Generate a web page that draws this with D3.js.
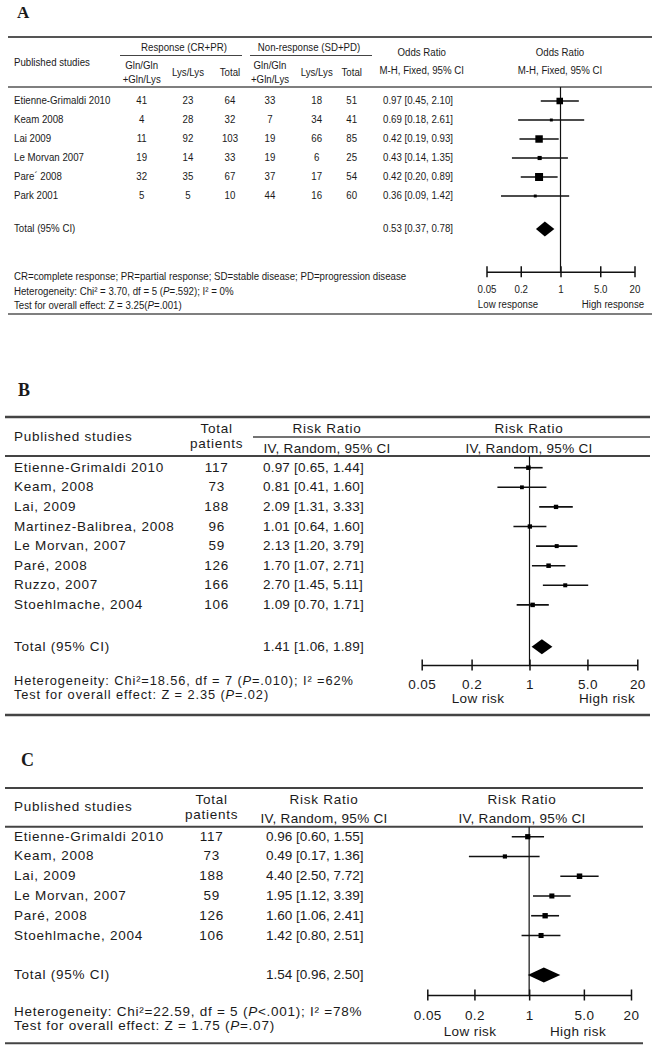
<!DOCTYPE html>
<html><head><meta charset="utf-8">
<script src="https://cdn.jsdelivr.net/npm/d3@7"></script>
<style>body{margin:0;background:#fff} svg{display:block}</style>
</head><body><svg id="c" width="659" height="1050"></svg>
<script>
// ---------- Panel A data ----------
const studiesA = ["Etienne-Grimaldi 2010","Keam 2008","Lai 2009","Le Morvan 2007","Pare´ 2008","Park 2001"];
const respGlnA = [41,4,11,19,32,5];
const respLysA = [23,28,92,14,35,5];
const respTotA = [64,32,103,33,67,10];
const nonGlnA  = [33,7,19,19,37,44];
const nonLysA  = [18,34,66,6,17,16];
const nonTotA  = [51,41,85,25,54,60];
const estA = [0.97,0.69,0.42,0.43,0.42,0.36];
const loA  = [0.45,0.18,0.19,0.14,0.20,0.09];
const hiA  = [2.10,2.61,0.93,1.35,0.89,1.42];
const weightA = [20,4,26,8,30,4];
const totalA = [0.53,0.37,0.78];
// ---------- Panel B data ----------
const studiesB = ["Etienne-Grimaldi 2010","Keam, 2008","Lai, 2009","Martinez-Balibrea, 2008","Le Morvan, 2007","Paré, 2008","Ruzzo, 2007","Stoehlmache, 2004"];
const patientsB = [117,73,188,96,59,126,166,106];
const estB = [0.97,0.81,2.09,1.01,2.13,1.70,2.70,1.09];
const loB  = [0.65,0.41,1.31,0.64,1.20,1.07,1.45,0.70];
const hiB  = [1.44,1.60,3.33,1.60,3.79,2.71,5.11,1.71];
const weightB = [14,10,13,13,11,14,11,14];
const totalB = [1.41,1.06,1.89];
// ---------- Panel C data ----------
const studiesC = ["Etienne-Grimaldi 2010","Keam, 2008","Lai, 2009","Le Morvan, 2007","Paré, 2008","Stoehlmache, 2004"];
const patientsC = [117,73,188,59,126,106];
const estC = [0.96,0.49,4.40,1.95,1.60,1.42];
const loC  = [0.60,0.17,2.50,1.12,1.06,0.80];
const hiC  = [1.55,1.36,7.72,3.39,2.41,2.51];
const weightC = [17,11,19,16,18,16];
const totalC = [1.54,0.96,2.50];
// ---------- axis ----------
const tickValues = [0.05,0.2,1,5,20];
const tickLabels = ["0.05","0.2","1","5.0","20"];

const svg = d3.select("#c");
svg.append("rect").attr("width",659).attr("height",1050).attr("fill","#fff");
const LS = "'Liberation Sans', Arial, sans-serif";
const SERIF = "'Liberation Serif','Times New Roman',serif";
const INK = "#1a1a1a";

function rule(x1,x2,y,w,c){
  svg.append("line").attr("x1",x1).attr("x2",x2).attr("y1",y).attr("y2",y)
    .attr("stroke",c||"#333").attr("stroke-width",w);
}
function label(x,y,s,o={}){
  const t = svg.append("text")
    .attr("font-family",o.ff||LS).attr("font-size",o.fs||13)
    .attr("text-anchor",o.anchor||"start").attr("dominant-baseline","middle")
    .attr("fill",INK);
  if(o.sx){ t.attr("x",0).attr("y",0).attr("transform",`translate(${x},${y}) scale(${o.sx},1)`); }
  else t.attr("x",x).attr("y",y);
  if(o.fw) t.attr("font-weight",o.fw);
  if(o.ls) t.attr("letter-spacing",o.ls);
  String(s).split(/(\*[^*]+\*)/).forEach(p=>{
    if(!p) return;
    if(p[0]==="*") t.append("tspan").attr("font-style","italic").text(p.slice(1,-1));
    else t.append("tspan").text(p);
  });
  return t;
}
function fmt(v){ return v.toFixed(2); }

function forest(o){
  const x = d3.scaleLog().domain([0.05,20]).range(o.xr);
  const y = d3.scaleLinear().domain([0,o.est.length-1]).range(o.yr);
  const sz = d3.scaleSqrt().domain([0,d3.max(o.w)]).range([0,o.maxBox]);
  const g = svg.append("g");
  g.append("line").attr("x1",x(1)).attr("x2",x(1)).attr("y1",o.yTop).attr("y2",o.yAxis)
    .attr("stroke","#111").attr("stroke-width",1.2);
  o.est.forEach((e,i)=>{
    g.append("line").attr("x1",x(o.lo[i])).attr("x2",x(o.hi[i])).attr("y1",y(i)).attr("y2",y(i))
      .attr("stroke","#111").attr("stroke-width",o.lw);
    const s = sz(o.w[i]);
    g.append("rect").attr("x",x(e)-s/2).attr("y",y(i)-s/2).attr("width",s).attr("height",s).attr("fill","#000");
  });
  const [te,tl,th] = o.total, h = o.dh;
  g.append("path").attr("d",`M${x(tl)},${o.yTotal}L${x(te)},${o.yTotal-h}L${x(th)},${o.yTotal}L${x(te)},${o.yTotal+h}Z`).attr("fill","#000");
  const ax = d3.axisBottom(x).tickValues(tickValues).tickFormat((d,i)=>tickLabels[i]).tickSizeOuter(0).tickSizeInner(5);
  const ag = svg.append("g").attr("transform",`translate(0,${o.yAxis})`).call(ax);
  ag.attr("font-family",o.ff).attr("font-size",o.fs);
  ag.select(".domain").attr("stroke","#111").attr("stroke-width",1.5);
  ag.selectAll(".tick line").attr("y1",-5.5).attr("y2",5.5).attr("stroke","#111").attr("stroke-width",1.5);
  const tt = ag.selectAll(".tick text").attr("dy",0).attr("dominant-baseline","middle").attr("fill",INK);
  if(o.sx) tt.attr("y",0).attr("transform",`translate(0,${o.labOff}) scale(${o.sx},1)`);
  else tt.attr("y",o.labOff);
  if(o.ls) tt.attr("letter-spacing",o.ls);
  label(o.lowX,o.yLow,o.lowT,{ff:o.ff,fs:o.fs,anchor:"middle",sx:o.sx,ls:o.ls});
  label(o.highX,o.yLow,o.highT,{ff:o.ff,fs:o.fs,anchor:"middle",sx:o.sx,ls:o.ls});
  return {x,y};
}

// ================= PANEL A =================
{
  const ff = LS, fs = 11, sx = 0.88;
  const T = (x,y,s,a)=>label(x,y,s,{ff,fs,sx,anchor:a||"start"});
  label(17,14,"A",{ff:SERIF,fs:17,fw:"bold"});
  rule(8,652,37,2,"#555");
  T(184,48,"Response (CR+PR)","middle");
  rule(120,242,55.5,1.2,"#444");
  T(309,48,"Non-response (SD+PD)","middle");
  rule(250,372,55.5,1.2,"#444");
  T(14,63,"Published studies");
  [[141.7,"g"],[188,"l"],[230,"t"],[270,"g"],[316.7,"l"],[351.7,"t"]].forEach(([cx,k])=>{
    if(k==="g"){ T(cx,66,"Gln/Gln","middle"); T(cx,80,"+Gln/Lys","middle"); }
    else T(cx,73,k==="l"?"Lys/Lys":"Total","middle");
  });
  [421.7,560].forEach(cx=>{
    T(cx,53,"Odds Ratio","middle");
    T(cx,71,"M-H, Fixed, 95% CI","middle");
  });
  rule(8,652,87,1.5,"#555");
  const f = forest({xr:[486.5,634.5],yr:[101,196],est:estA,lo:loA,hi:hiA,w:weightA,maxBox:8,lw:1.6,
    total:totalA,yTotal:229,dh:7.5,yTop:87,yAxis:271.7,ff,fs,sx,labOff:18.5,
    lowX:508,highX:613,yLow:305,lowT:"Low response",highT:"High response"});
  const cols = [[141.7,respGlnA],[188,respLysA],[230,respTotA],[270,nonGlnA],[316.7,nonLysA],[351.7,nonTotA]];
  studiesA.forEach((s,i)=>{
    const yy = f.y(i);
    T(14,yy,s);
    cols.forEach(([cx,arr])=>T(cx,yy,arr[i],"middle"));
    T(383,yy,`${fmt(estA[i])} [${fmt(loA[i])}, ${fmt(hiA[i])}]`);
  });
  T(14,229,"Total (95% CI)");
  T(383,229,`${fmt(totalA[0])} [${fmt(totalA[1])}, ${fmt(totalA[2])}]`);
  T(14,277,"CR=complete response; PR=partial response; SD=stable disease; PD=progression disease");
  T(14,292,"Heterogeneity: Chi² = 3.70, df = 5 (*P*=.592); I² = 0%");
  T(14,306,"Test for overall effect: Z = 3.25(*P*=.001)");
  rule(8,652,314,1.5,"#555");
}

// ================= PANEL B =================
{
  const ff = LS, fs = 13.5, ls = 0.75;
  const T = (x,y,s,a,l)=>label(x,y,s,{ff,fs,ls:(l===undefined?ls:l),anchor:a||"start"});
  label(18,392,"B",{ff:SERIF,fs:18,fw:"bold"});
  rule(5,650,417,2.5,"#444");
  T(14,437,"Published studies");
  T(216.7,429,"Total","middle");
  T(216.7,444,"patients","middle");
  [327,529].forEach(cx=>{
    T(cx,429,"Risk Ratio","middle");
    T(cx,449,"IV, Random, 95% CI","middle",0.3);
  });
  rule(253,650,437,1.5,"#444");
  rule(5,650,456,2,"#444");
  const f = forest({xr:[421.7,637.3],yr:[467.7,604.9],est:estB,lo:loB,hi:hiB,w:weightB,maxBox:4.5,lw:1.6,
    total:totalB,yTotal:646.7,dh:7.5,yTop:456,yAxis:665,ff,fs,ls:0.4,labOff:20,
    lowX:478,highX:607,yLow:699,lowT:"Low risk",highT:"High risk"});
  studiesB.forEach((s,i)=>{
    const yy = f.y(i);
    T(14,yy,s);
    T(216.7,yy,patientsB[i],"middle");
    T(263,yy,`${fmt(estB[i])} [${fmt(loB[i])}, ${fmt(hiB[i])}]`,"start",0.2);
  });
  T(14,646.7,"Total (95% CI)");
  T(263,646.7,`${fmt(totalB[0])} [${fmt(totalB[1])}, ${fmt(totalB[2])}]`,"start",0.2);
  label(14,682.3,"Heterogeneity: Chi²=18.56, df = 7 (*P*=.010); I² =62%",{ff,fs:12.8,ls:0.9});
  label(14,695.5,"Test for overall effect: Z  = 2.35 (*P*=.02)",{ff,fs:12.8,ls:0.9});
  rule(5,650,715,2.5,"#444");
}

// ================= PANEL C =================
{
  const ff = LS, fs = 13.5, ls = 0.75;
  const T = (x,y,s,a,l)=>label(x,y,s,{ff,fs,ls:(l===undefined?ls:l),anchor:a||"start"});
  label(21,762,"C",{ff:SERIF,fs:18,fw:"bold"});
  rule(5,643,788,2,"#444");
  T(14,807,"Published studies");
  T(211.7,800,"Total","middle");
  T(211.7,815,"patients","middle");
  [324,522].forEach(cx=>{
    T(cx,800,"Risk Ratio","middle");
    T(cx,819,"IV, Random, 95% CI","middle",0.3);
  });
  rule(5,643,826.7,2,"#444");
  const f = forest({xr:[427.3,631],yr:[836.7,935.5],est:estC,lo:loC,hi:hiC,w:weightC,maxBox:5.5,lw:1.6,
    total:totalC,yTotal:975,dh:7.5,yTop:826.7,yAxis:995,ff,fs,ls:0.4,labOff:21.5,
    lowX:470,highX:578,yLow:1031.7,lowT:"Low risk",highT:"High risk"});
  studiesC.forEach((s,i)=>{
    const yy = f.y(i);
    T(14,yy,s);
    T(211.7,yy,patientsC[i],"middle");
    T(266,yy,`${fmt(estC[i])} [${fmt(loC[i])}, ${fmt(hiC[i])}]`,"start",0);
  });
  T(14,975,"Total (95% CI)");
  T(266,975,`${fmt(totalC[0])} [${fmt(totalC[1])}, ${fmt(totalC[2])}]`,"start",0);
  T(14,1011.5,"Heterogeneity: Chi²=22.59, df = 5 (*P*<.001); I² =78%");
  T(14,1025.7,"Test for overall effect: Z  = 1.75 (*P*=.07)");
  rule(5,643,1043.3,2,"#444");
}
</script></body></html>
